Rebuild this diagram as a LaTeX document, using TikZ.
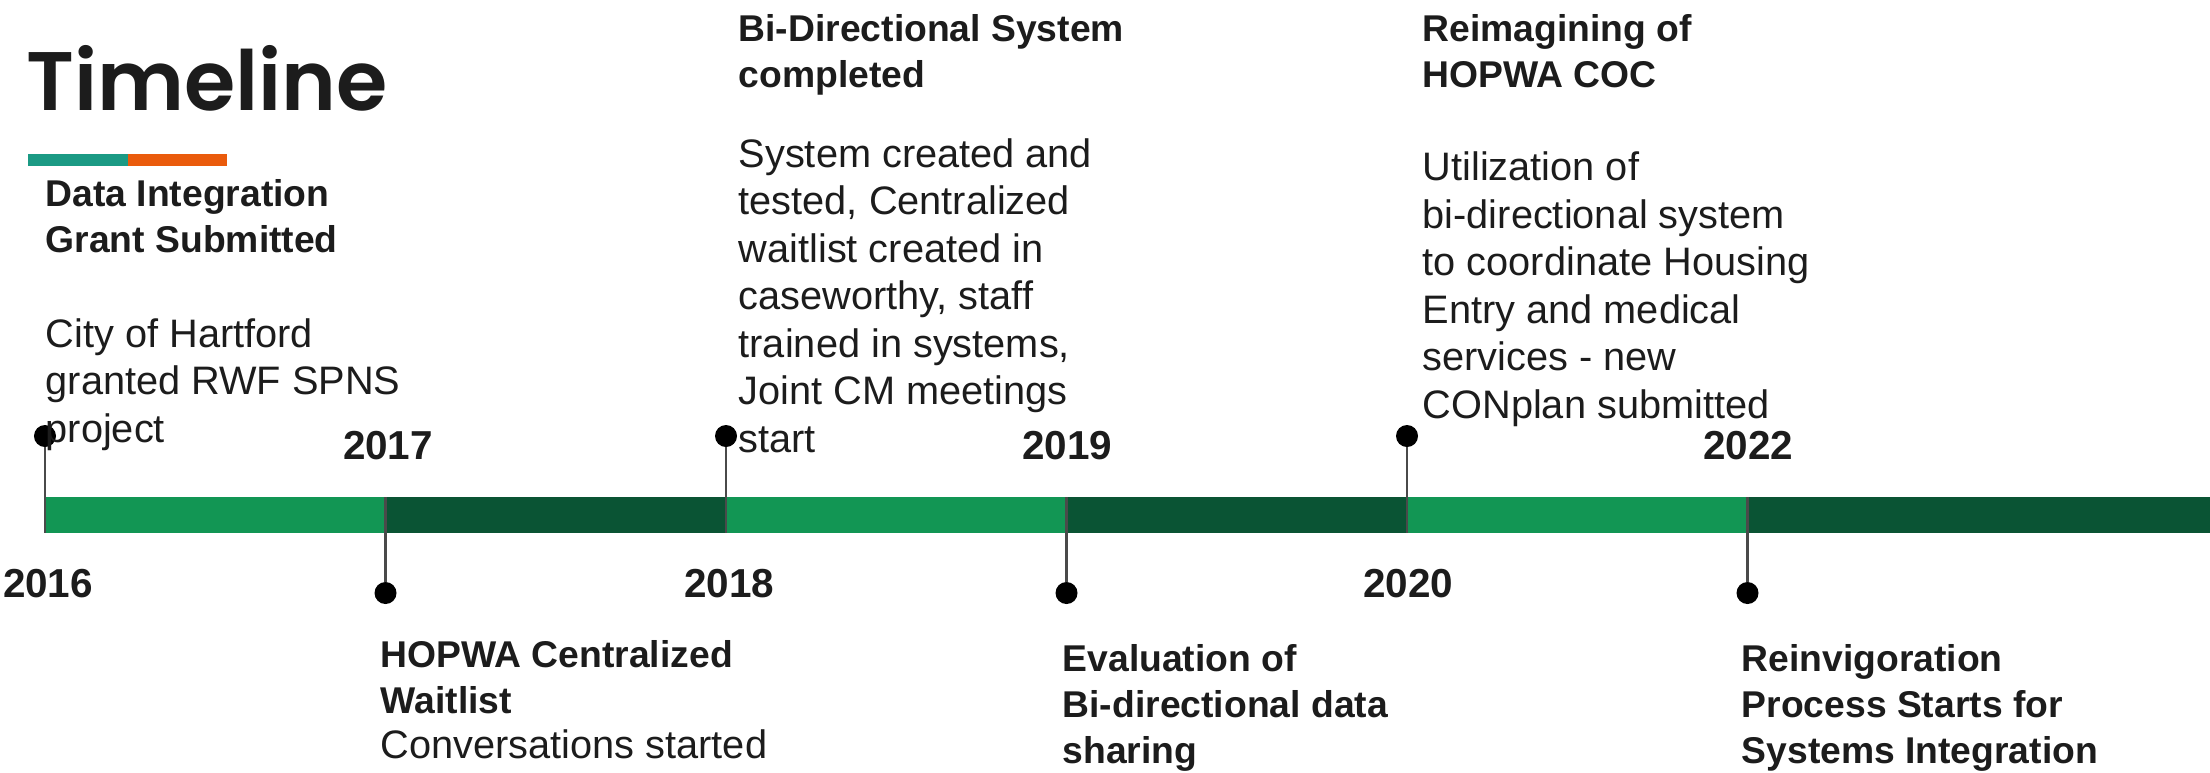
\documentclass[tikz,border=0pt]{standalone}
\usepackage{fontspec}
\setmainfont{Liberation Sans}
\newfontfamily\titlefont{Poppins SemiBold}
\usetikzlibrary{positioning}
\definecolor{bandlight}{HTML}{129654}
\definecolor{banddark}{HTML}{0A5434}
\definecolor{barteal}{HTML}{1B9A84}
\definecolor{barorange}{HTML}{EA5B0C}
\definecolor{stemgray}{HTML}{4A4A4A}
\definecolor{inkblack}{HTML}{1C1C1C}
\newcommand{\tlhead}{\fontsize{10.6pt}{13pt}\selectfont\bfseries}
\newcommand{\tlbody}{\fontsize{11.3pt}{13.5pt}\selectfont}
\newcommand{\tlyear}{\fontsize{11.5pt}{13.3pt}\selectfont\bfseries}
\tikzstyle{eventdot}=[circle, fill=black, inner sep=0, outer sep=0, minimum size=0.22cm]
\tikzstyle{stem}=[draw=stemgray, line width=0.6pt]
\tikzstyle{year}=[font=\tlyear, text=inkblack, inner sep=0, anchor=base]
% Multi-line nodes: the base anchor sits on the last line.
\tikzstyle{headline}=[font=\tlhead, text=inkblack, align=left, inner sep=0, anchor=base west]
\tikzstyle{detail}=[font=\tlbody, text=inkblack, align=left, inner sep=0, anchor=base west]
\tikzstyle{timeline}=[x=0.01cm, y=-0.01cm]
\begin{document}
\begin{tikzpicture}[timeline]
        \useasboundingbox (0, 0) rectangle (2210, 772);
        % Title and its two-colour bar.
        \node[font=\titlefont\fontsize{23.6pt}{28pt}\selectfont, text=inkblack,
              inner sep=0, anchor=base west] (title) at (26, 110) {Timeline};
        \fill[barteal] (28, 154) rectangle (128, 166);
        \fill[barorange] (128, 154) rectangle (227, 166);
        % The band, one segment per year.
        \fill[bandlight] (45, 497) rectangle (385.5, 533);
        \fill[banddark] (385.5, 497) rectangle (726, 533);
        \fill[bandlight] (726, 497) rectangle (1066.5, 533);
        \fill[banddark] (1066.5, 497) rectangle (1407, 533);
        \fill[bandlight] (1407, 497) rectangle (1747.5, 533);
        \fill[banddark] (1747.5, 497) rectangle (2210, 533);
        % Band edges where the stems end.
        \coordinate (s16) at (45, 533);
        \coordinate (s17) at (385.5, 497);
        \coordinate (s18) at (726, 533);
        \coordinate (s19) at (1066.5, 497);
        \coordinate (s20) at (1407, 533);
        \coordinate (s22) at (1747.5, 497);
        \node[eventdot] (e16) at (45, 436) {};
        \node[eventdot] (e17) at (385.5, 593) {};
        \node[eventdot] (e18) at (726, 436) {};
        \node[eventdot] (e19) at (1066.5, 593) {};
        \node[eventdot] (e20) at (1407, 436) {};
        \node[eventdot] (e22) at (1747.5, 593) {};
        \draw[stem] (e16) -- (s16);
        \draw[stem] (e17) -- (s17);
        \draw[stem] (e18) -- (s18);
        \draw[stem] (e19) -- (s19);
        \draw[stem] (e20) -- (s20);
        \draw[stem] (e22) -- (s22);
        % Years.
        \node[year] (y16) at (48, 597) {2016};
        \node[year] (y17) at (388, 459) {2017};
        \node[year] (y18) at (729, 597) {2018};
        \node[year] (y19) at (1067, 459) {2019};
        \node[year] (y20) at (1408, 597) {2020};
        \node[year] (y22) at (1748, 459) {2022};
        % Events.
        \node[headline] (t16) at (45, 252) {Data Integration\\Grant Submitted};
        \node[detail] (d16) at (45, 442) {City of Hartford\\granted RWF SPNS\\project};
        \node[headline] (t17) at (380, 713) {HOPWA Centralized\\Waitlist};
        \node[detail] (d17) at (380, 758) {Conversations started};
        \node[headline] (t18) at (738, 87) {Bi-Directional System\\completed};
        \node[detail] (d18) at (738, 452) {System created and\\tested, Centralized\\waitlist created in\\caseworthy, staff\\trained in systems,\\Joint CM meetings\\start};
        \node[headline] (t19) at (1062, 763) {Evaluation of\\Bi-directional data\\sharing};
        \node[headline] (t20) at (1422, 87) {Reimagining of\\HOPWA COC};
        \node[detail] (d20) at (1422, 418) {Utilization of\\bi-directional system\\to coordinate Housing\\Entry and medical\\services - new\\CONplan submitted};
        \node[headline] (t22) at (1741, 763) {Reinvigoration\\Process Starts for\\Systems Integration};
    \end{tikzpicture}
\end{document}
